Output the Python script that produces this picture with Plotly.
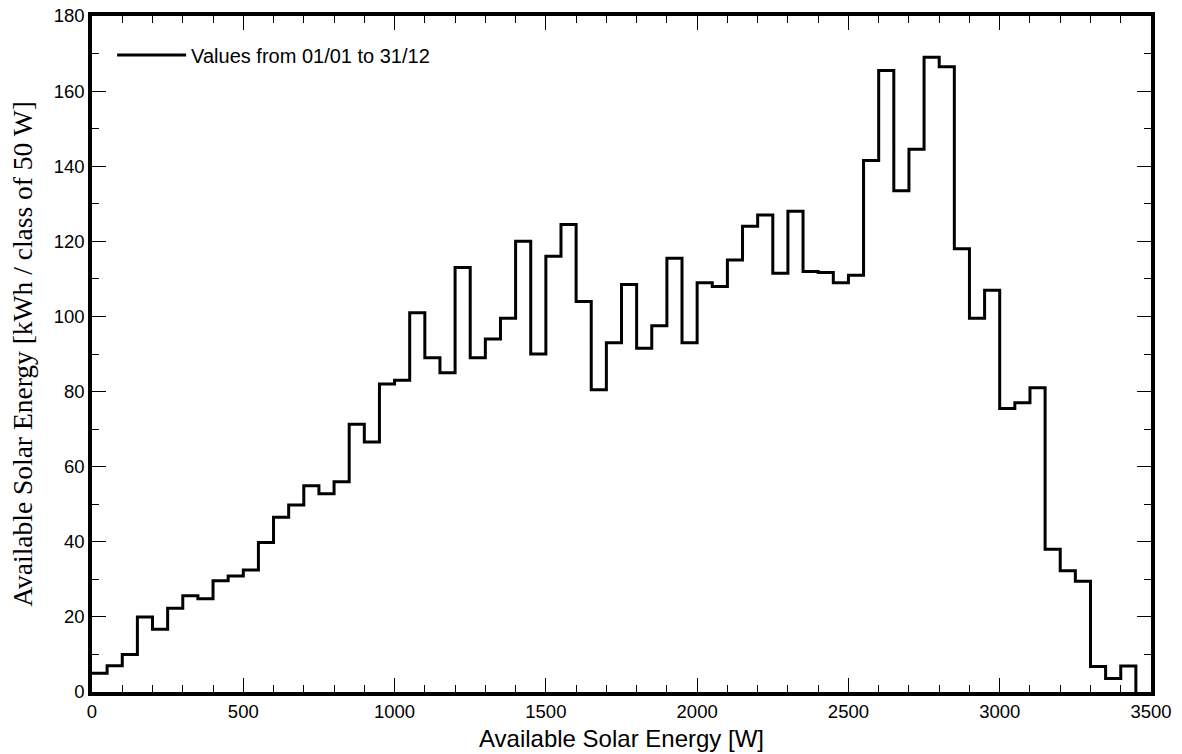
import plotly.graph_objects as go

bin_width = 50
bin_edges = list(range(0, 3500, 50))  # 0 .. 3450
energy = [5, 7, 10, 20, 16.7, 22.3, 25.6, 24.8, 29.6, 30.9,
          32.5, 39.8, 46.5, 49.8, 54.9, 52.8, 56, 71.3, 66.6, 82,
          83, 101, 89, 85, 113, 89, 94, 99.5, 120, 90,
          116, 124.5, 104, 80.5, 93, 108.5, 91.5, 97.5, 115.5, 93,
          109, 108, 115, 124, 127, 111.5, 128, 112, 111.7, 109,
          111, 141.5, 165.5, 133.5, 144.5, 169, 166.5, 118, 99.5, 107,
          75.5, 77, 81, 38, 32.3, 29.5, 6.8, 3.6, 6.9]

x_ticks = [0, 500, 1000, 1500, 2000, 2500, 3000, 3500]
y_ticks = [0, 20, 40, 60, 80, 100, 120, 140, 160, 180]

xs = bin_edges
ys = energy + [0]

fig = go.Figure()
fig.add_trace(go.Scatter(
    x=xs, y=ys, mode="lines", line=dict(color="black", width=3, shape="hv"),
    name="Values from 01/01 to 31/12"))

axis_common = dict(
    showline=True, linecolor="black", linewidth=3.5, mirror="ticks",
    ticks="inside", tickcolor="black", tickwidth=1.3,
    showgrid=False, zeroline=False, automargin=False,
    tickfont=dict(family="Liberation Sans, Arial", size=18.5, color="black"),
)

fig.update_xaxes(
    **axis_common, range=[0, 3500], tickvals=x_ticks, ticklen=14,
    minor=dict(ticks="inside", dtick=100, ticklen=7, tickcolor="black", tickwidth=1.3, showgrid=False),
    title=dict(text="Available Solar Energy [W]", standoff=10,
               font=dict(family="Liberation Sans, Arial", size=24, color="black")),
)
fig.update_yaxes(
    **axis_common, range=[0, 180], tickvals=y_ticks, ticklen=14,
    minor=dict(ticks="inside", dtick=10, ticklen=7, tickcolor="black", tickwidth=1.3, showgrid=False),
    title=dict(text="Available Solar Energy [kWh / class of 50 W]", standoff=14,
               font=dict(family="Liberation Serif, Times New Roman", size=27.5, color="black")),
)

fig.update_layout(
    template="none",
    width=1182, height=754,
    margin=dict(l=92, r=31, t=16, b=62),
    paper_bgcolor="white", plot_bgcolor="white",
    showlegend=True,
    legend=dict(x=0.019, y=0.971, xanchor="left", yanchor="top",
                bgcolor="rgba(0,0,0,0)", itemwidth=69,
                font=dict(family="Liberation Sans, Arial", size=20, color="black")),
)

fig.write_html("out.html")
